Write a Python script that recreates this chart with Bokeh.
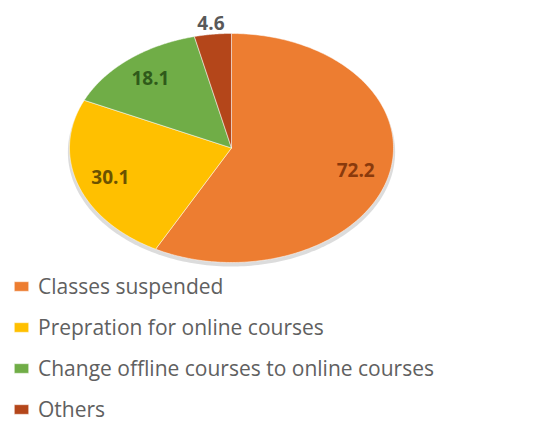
import numpy as np
from bokeh.plotting import figure
from bokeh.models import Range1d, Legend, LegendItem, ColumnDataSource
from bokeh.core.properties import value
from bokeh.embed import file_html
from bokeh.resources import INLINE

# ---- data ----
categories = ["Classes suspended", "Prepration for online courses",
              "Change offline courses to online courses", "Others"]
values = [72.2, 30.1, 18.1, 4.6]
colors = ["#ED7D31", "#FFC000", "#70AD47", "#B4461A"]
label_colors = ["#8A3A0C", "#6B5200", "#2F5A1A", "#595959"]

# ---- layout ----
W, H = 552, 424
CX, CY = 231, 147.5      # pie centre (px from top-left)
RX, RY = 162, 114.5      # on-screen radii (the pie is drawn stretched)

p = figure(width=W, height=H, output_backend="svg", toolbar_location=None,
           x_range=Range1d(-CX / RX, (W - CX) / RX),
           y_range=Range1d(-(H - CY) / RY, CY / RY),
           x_axis_location=None, y_axis_location=None, min_border=0)
p.grid.visible = False
p.outline_line_color = None

total = sum(values)
fracs = [v / total for v in values]
cum = np.concatenate([[0], np.cumsum(fracs)])

xs, ys, lx, ly = [], [], [], []
for i, f in enumerate(fracs):
    t = np.linspace(cum[i], cum[i + 1], 200) * 2 * np.pi  # clockwise from top
    ang = np.pi / 2 - t
    xs.append(np.concatenate([[0], np.cos(ang), [0]]).tolist())
    ys.append(np.concatenate([[0], np.sin(ang), [0]]).tolist())
    mid = np.pi / 2 - (cum[i] + f / 2) * 2 * np.pi
    r = 0.79 if f > 0.05 else 1.10
    lx.append(r * np.cos(mid))
    ly.append(r * np.sin(mid))

# soft shadow
sh = np.linspace(0, 2 * np.pi, 300)
p.patch(1.01 * np.cos(sh), 1.0 * np.sin(sh) - 0.035, fill_color="#9a9a9a",
        fill_alpha=0.35, line_color=None)

src = ColumnDataSource(dict(xs=xs, ys=ys, color=colors, cat=categories))
r = p.patches("xs", "ys", source=src, fill_color="color", line_color="white",
              line_width=1, line_alpha=0.5)

lsrc = ColumnDataSource(dict(x=lx, y=ly, text=[f"{v:.1f}" for v in values],
                             color=label_colors))
p.text("x", "y", text="text", source=lsrc, text_color="color",
       text_font=value("Open Sans"), text_font_style="bold",
       text_font_size="19px", text_align="center", text_baseline="middle")

legend = Legend(items=[LegendItem(label=c, renderers=[r], index=i)
                       for i, c in enumerate(categories)],
                location=(12, 1), orientation="vertical",
                glyph_width=18, glyph_height=12, label_standoff=8,
                label_text_font="Open Sans", label_text_font_size="21px",
                label_text_color="#606060", label_height=20, spacing=13,
                padding=0, margin=0, border_line_color=None,
                background_fill_alpha=0)
p.add_layout(legend)

open("out.html", "w").write(file_html(p, INLINE))
